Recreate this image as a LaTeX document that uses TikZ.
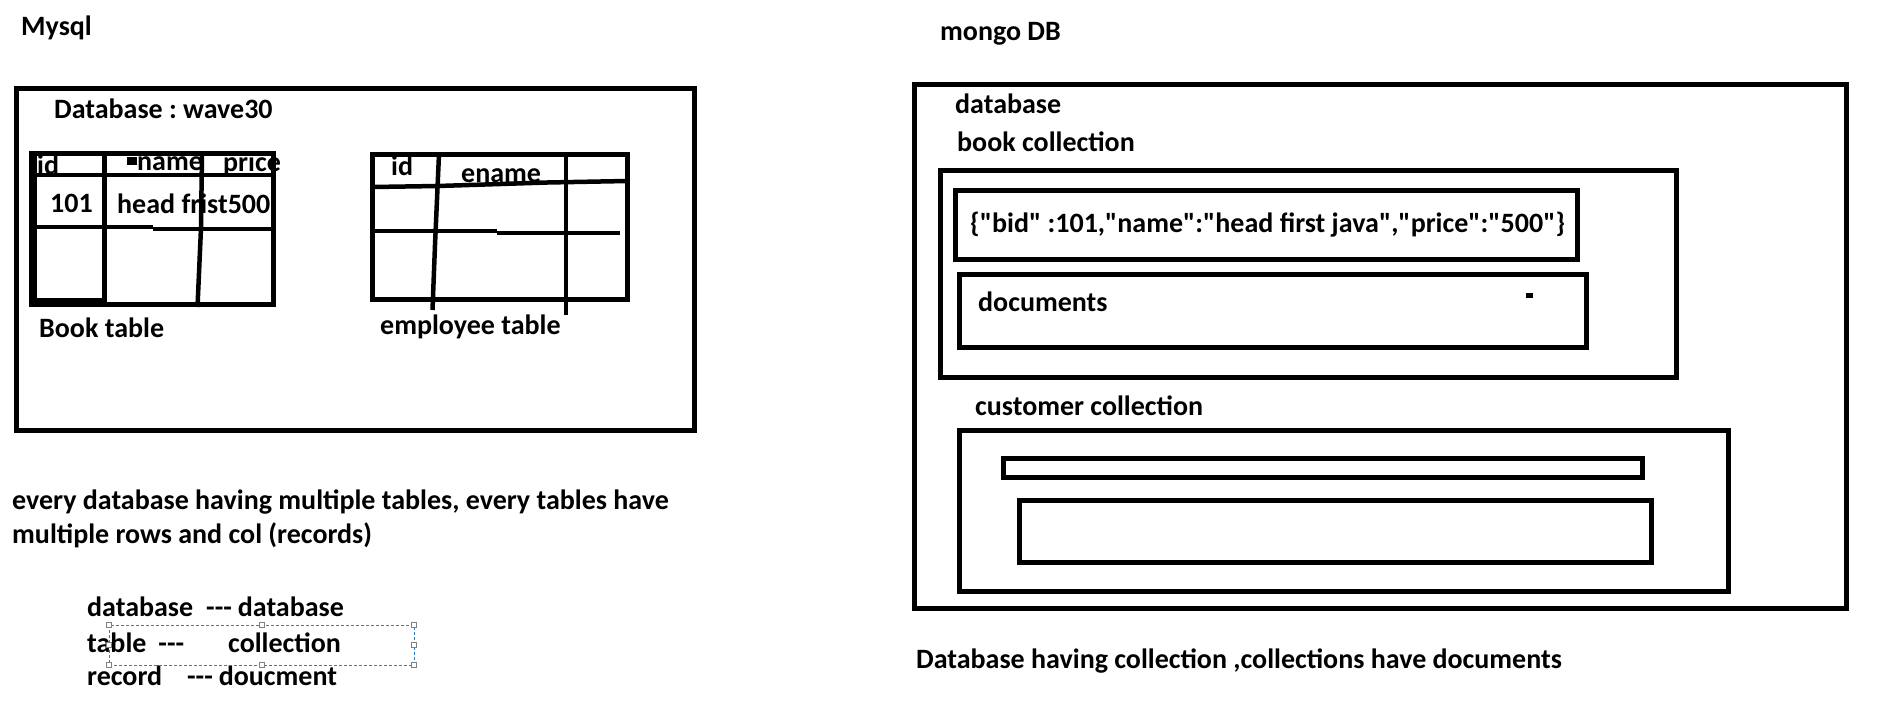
\documentclass[tikz,border=0pt]{standalone}
\usepackage{fontspec}
\setmainfont{Carlito}
\usepackage{xcolor}

\definecolor{selblue}{RGB}{45,125,205}
\newcommand\trio{-\kern0pt-\kern0pt-}
\newcommand\dq{\XeTeXglyph\XeTeXcharglyph"22\relax}

\tikzset{
  box/.style={line width=5pt},
  grid/.style={line width=4.5pt},
  txt/.style={anchor=base west, inner sep=0pt, font=\bfseries\fontsize{28}{33}\selectfont\frenchspacing},
  handle/.style={draw=gray, fill=white, line width=0.8pt},
}

\begin{document}
\begin{tikzpicture}[x=1pt,y=-1pt]
\fill[white] (0,0) rectangle (1880,705);
\useasboundingbox (0,0) rectangle (1880,705);

\node[txt] (mysql) at (21,35) {Mysql};
\node[txt] (dbname) at (54,118) {Database : wave30};
\node[txt] (bid) at (37,174) {id};
\node[txt] (bname) at (137,170) {name};
\node[txt] (bprice) at (223,171) {price};
\node[txt] (b101) at (50,212) {101};
\node[txt] (bhead) at (117,213) {head frist500};
\node[txt] (booktab) at (39,337) {Book table};
\node[txt] (eid) at (391,175) {id};
\node[txt] (ename) at (461,182) {ename};
\node[txt] (emptab) at (380,334) {employee table};

\draw[box] (16,88.5) rectangle (694.5,430.5);

\draw[box] (31,153) rectangle (273.5,304);
\draw[line width=8pt] (33,151) -- (33,306);
\draw[line width=8pt] (29,302) -- (104,302);
\draw[grid] (30,175) -- (274,175);
\draw[grid] (30,227) -- (153,227);
\draw[grid] (153,229) -- (274,229);
\draw[grid] (104.5,153) -- (104.5,304);
\draw[grid] (202,153) -- (201,228) -- (197.5,307);
\fill (127,157) rectangle (137,165);

\draw[box] (372.5,154.5) rectangle (627,299.5);
\draw[grid] (372,187) -- (438,186) -- (547,182.5) -- (627,181);
\draw[grid] (372,231) -- (497,231);
\draw[grid] (497,233) -- (620,233);
\draw[grid] (439,154) -- (435,245) -- (432.5,310);
\draw[grid] (566,154) -- (566,315);

\node[txt] (every) at (12,509) {every database having multiple tables, every tables have};
\node[txt] (rows) at (12,543) {multiple rows and col (records)};
\node[txt] (mapdb) at (87,616) {database\hspace{13pt}\trio\hspace{6pt}database};
\node[txt] (maptab) at (87,652) {table\hspace{12pt}\trio\hspace{44pt}collection};
\node[txt] (maprec) at (87,685) {record\hspace{25pt}\trio\hspace{6pt}doucment};

\draw[selblue, line width=1pt, dash pattern=on 3pt off 2pt] (109,625) rectangle (414,665);
\foreach \hx/\hy in {109/625, 262/625, 414/625, 414/645, 414/665, 262/665, 109/665, 109/645}
  \draw[handle] (\hx-2.5,\hy-2.5) rectangle (\hx+2.5,\hy+2.5);

\node[txt] (mongo) at (940,40) {mongo DB};
\node[txt] (mdb) at (955,113) {database};
\node[txt] (bookcol) at (957,151) {book collection};
\node[txt] (doc1) at (970,232) {\{\dq bid\dq{} :101,\dq name\dq:\dq head first java\dq,\dq price\dq:\dq500\dq\}};
\node[txt] (docs) at (978,311) {documents};
\node[txt] (custcol) at (975,415) {customer collection};
\node[txt] (summary) at (916,668) {Database having collection ,collections have documents};

\draw[box] (914.5,84.5) rectangle (1846,608);
\draw[box] (940.5,170) rectangle (1676,377);
\draw[box] (955,190.5) rectangle (1577,259.5);
\draw[box] (959,274) rectangle (1586,347);
\fill (1526,293) rectangle (1533,298);

\draw[box] (959.5,430.5) rectangle (1728,591);
\draw[box] (1003.5,458.5) rectangle (1642,477);
\draw[box] (1019,500.5) rectangle (1651,562);

\end{tikzpicture}
\end{document}
